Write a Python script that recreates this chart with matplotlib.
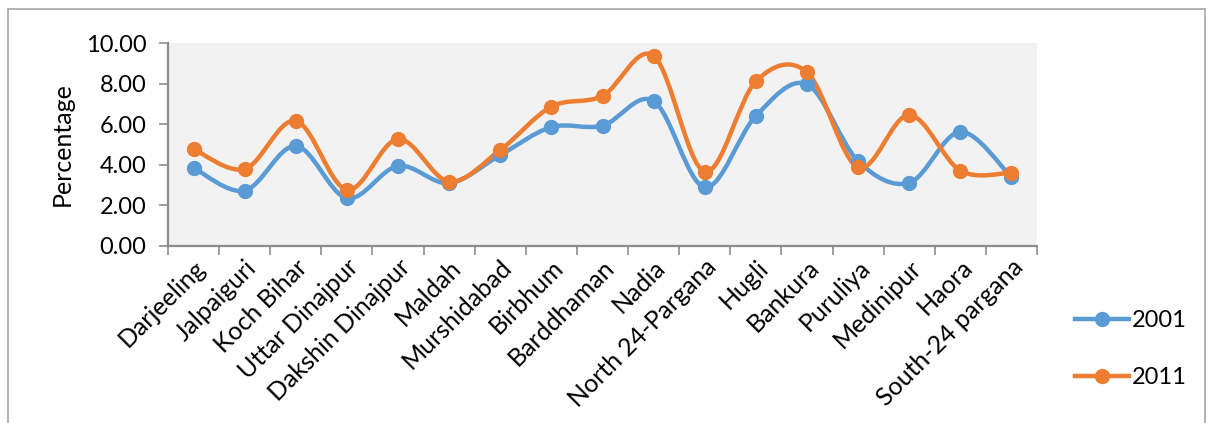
import matplotlib
matplotlib.use("Agg")
import matplotlib.pyplot as plt
from matplotlib.path import Path
from matplotlib.patches import PathPatch, Rectangle
import numpy as np

districts = ["Darjeeling", "Jalpaiguri", "Koch Bihar", "Uttar Dinajpur", "Dakshin Dinajpur",
             "Maldah", "Murshidabad", "Birbhum", "Barddhaman", "Nadia", "North 24-Pargana",
             "Hugli", "Bankura", "Puruliya", "Medinipur", "Haora", "South-24 pargana"]
pct_2001 = [3.85, 2.72, 4.93, 2.35, 3.94, 3.09, 4.48, 5.86, 5.93, 7.15, 2.89,
            6.41, 7.97, 4.18, 3.11, 5.63, 3.38]
pct_2011 = [4.78, 3.79, 6.17, 2.76, 5.27, 3.17, 4.73, 6.87, 7.40, 9.38, 3.66,
            8.12, 8.57, 3.87, 6.46, 3.71, 3.61]

plt.rcParams["font.family"] = ["Lato", "DejaVu Sans"]
fs = 18

fig = plt.figure(figsize=(12.08, 4.23), dpi=100)
ax = fig.add_axes([168 / 1208, 1 - 245.7 / 423, (1037 - 168) / 1208, (245.7 - 43.3) / 423])
ax.set_facecolor("#f2f2f2")

# chart frame
fig.add_artist(Rectangle((8 / 1208, -0.1), (1205 - 8) / 1208, 1.1 - 9 / 423,
                         transform=fig.transFigure, fill=False, edgecolor="#a6a6a6", lw=1.2))


def smooth_path(xs, ys):
    # bezier smoothing similar to the spreadsheet "smoothed line"
    pts = np.column_stack([xs, ys])
    n = len(pts)
    verts = [pts[0]]
    codes = [Path.MOVETO]
    for i in range(n - 1):
        p0 = pts[i - 1] if i > 0 else pts[i]
        p1 = pts[i]
        p2 = pts[i + 1]
        p3 = pts[i + 2] if i + 2 < n else pts[i + 1]
        c1 = p1 + (p2 - p0) / 6.0
        c2 = p2 - (p3 - p1) / 6.0
        verts += [c1, c2, p2]
        codes += [Path.CURVE4] * 3
    return Path(verts, codes)


x = np.arange(len(districts)) + 0.5
series = [(pct_2001, "#5b9bd5", "2001"), (pct_2011, "#ed7d31", "2011")]
for vals, col, lab in series:
    ax.add_patch(PathPatch(smooth_path(x, vals), fill=False, edgecolor=col, lw=3.2,
                           capstyle="round", joinstyle="round", zorder=3))
    ax.plot(x, vals, "o", color=col, markersize=10, zorder=4)
    ax.plot([], [], "-o", color=col, lw=3.2, markersize=10, label=lab)

ax.set_xlim(0, len(districts))
ax.set_ylim(0, 10)
ax.set_yticks(np.arange(0, 10.01, 2))
ax.set_yticklabels(["%.2f" % v for v in np.arange(0, 10.01, 2)], fontsize=17)
ax.set_xticks(np.arange(len(districts) + 1))
ax.set_xticklabels([])
ax.set_xticks(x, minor=True)
ax.set_xticklabels(districts, minor=True, rotation=45, ha="right", rotation_mode="anchor",
                   fontsize=fs)
ax.tick_params(axis="x", which="minor", length=0, pad=7)
ax.tick_params(axis="both", which="major", length=6.5, width=1.2, color="#8c8c8c")
ax.tick_params(axis="y", pad=9)

for s in ["top", "right"]:
    ax.spines[s].set_visible(False)
for s in ["left", "bottom"]:
    ax.spines[s].set_color("#8c8c8c")
    ax.spines[s].set_linewidth(1.6)

ax.set_ylabel("Percentage", fontsize=fs, labelpad=9)

fig.legend(loc="upper left", bbox_to_anchor=(1063 / 1208, 1 - 298 / 423), frameon=False,
           fontsize=17, handlelength=2.3, handletextpad=0.1, labelspacing=1.55, borderpad=0)

fig.savefig("out.png", dpi=100)
